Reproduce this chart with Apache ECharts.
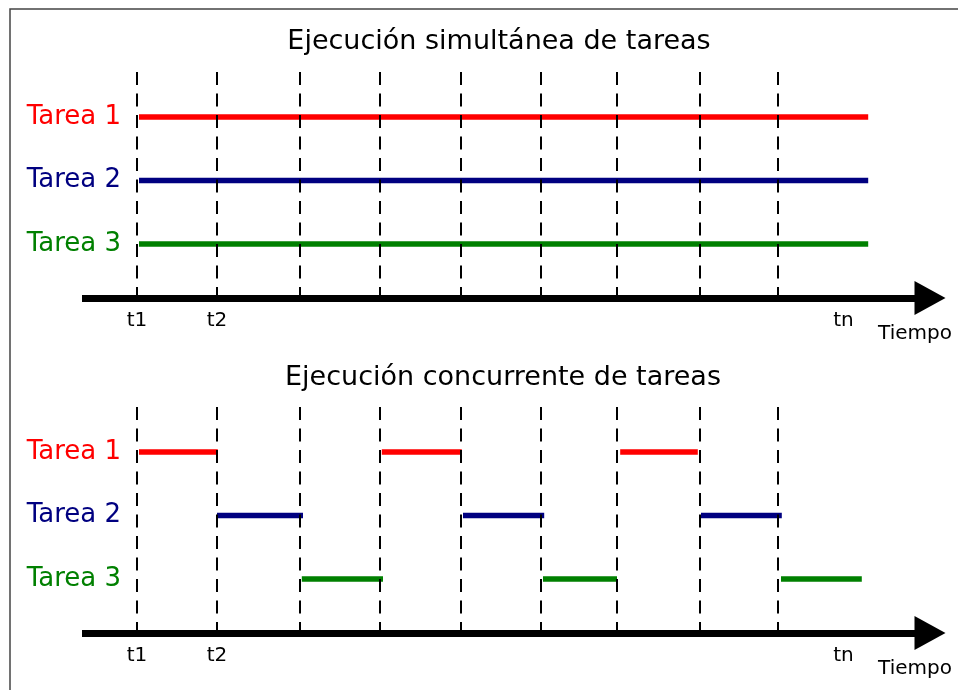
<!DOCTYPE html>
<html>
<head>
<meta charset="utf-8">
<script src="https://cdn.jsdelivr.net/npm/echarts@6/dist/echarts.min.js"></script>
<style>
html,body{margin:0;padding:0;background:#fff;}
#chart{width:958px;height:690px;}
</style>
</head>
<body>
<div id="chart"></div>
<script>
// ---- data ----
const titles = ['Ejecución simultánea de tareas', 'Ejecución concurrente de tareas'];
const taskNames = ['Tarea 1', 'Tarea 2', 'Tarea 3'];
const taskLevels = [3, 2, 1];
const timeBoundaries = [1.0, 2.0, 3.04, 4.04, 5.05, 6.05, 7.0, 8.03, 9.01];
const tickValues = [1, 2, 9.83];
const tickLabels = ['t1', 't2', 'tn'];
const axisName = 'Tiempo';
const simultaneousSpan = [1.025, 10.14];
const concurrentTask1 = [[1.025, 2.01], [4.06, 5.06], [7.04, 8.01]];
const concurrentTask2 = [[2.0, 3.075], [5.075, 6.09], [8.05, 9.06]];
const concurrentTask3 = [[3.06, 4.075], [6.075, 7.0], [9.05, 10.06]];

// ---- styles ----
const colors = ['#ff0000', '#000080', '#008000'];
const FONT = 'DejaVu Sans';
const X_MIN = 0.3125, X_MAX = 10.9125;
const Y_MIN = 0.15, Y_MAX = 3.709;

function segData(segs, level) {
  const out = [];
  segs.forEach((s, i) => {
    if (i > 0) out.push([s[0], '-']);
    out.push([s[0], level]);
    out.push([s[1], level]);
  });
  return out;
}

function dashLines() {
  return {
    silent: true,
    symbol: ['none', 'none'],
    label: { show: false },
    lineStyle: { type: [13, 8.5], color: '#000', width: 2 },
    emphasis: { disabled: true },
    data: timeBoundaries.map(t => [{ coord: [t, Y_MAX] }, { coord: [t, Y_MIN] }])
  };
}

function xAxisFor(gridIndex) {
  return {
    type: 'value', gridIndex, min: X_MIN, max: X_MAX,
    splitLine: { show: false },
    axisTick: { show: false },
    axisLine: {
      show: true, onZero: false,
      symbol: ['none', 'triangle'], symbolSize: [34, 31],
      lineStyle: { color: '#000', width: 7, cap: 'butt' }
    },
    axisLabel: {
      customValues: tickValues,
      formatter: v => { const i = tickValues.indexOf(v); return i >= 0 ? tickLabels[i] : ''; },
      color: '#000', fontSize: 20, fontFamily: FONT, margin: 13
    },
    name: axisName, nameLocation: 'end', nameGap: -15,
    nameTextStyle: { color: '#000', fontSize: 20, fontFamily: FONT, align: 'center', verticalAlign: 'top', padding: [26, 0, 0, 0] }
  };
}

function yAxisFor(gridIndex) {
  const rich = {};
  taskNames.forEach((n, i) => { rich['c' + i] = { color: colors[i], fontSize: 26, fontFamily: FONT }; });
  return {
    type: 'value', gridIndex, min: Y_MIN, max: Y_MAX,
    splitLine: { show: false }, axisTick: { show: false }, axisLine: { show: false },
    axisLabel: {
      customValues: taskLevels,
      formatter: v => { const i = taskLevels.indexOf(v); return i >= 0 ? '{c' + i + '|' + taskNames[i] + '}' : ''; },
      rich, margin: -39
    }
  };
}

const series = [];
// top panel: simultaneous
taskLevels.forEach((lv, i) => {
  const s = {
    type: 'line', xAxisIndex: 0, yAxisIndex: 0, symbol: 'none', silent: true,
    lineStyle: { color: colors[i], width: 5.5, cap: 'butt' },
    data: [[simultaneousSpan[0], lv], [simultaneousSpan[1], lv]]
  };
  if (i === 0) s.markLine = dashLines();
  series.push(s);
});
// bottom panel: concurrent
[concurrentTask1, concurrentTask2, concurrentTask3].forEach((segs, i) => {
  const s = {
    type: 'line', xAxisIndex: 1, yAxisIndex: 1, symbol: 'none', silent: true, connectNulls: false,
    lineStyle: { color: colors[i], width: 5.5, cap: 'butt' },
    data: segData(segs, taskLevels[i])
  };
  if (i === 0) s.markLine = dashLines();
  series.push(s);
});

const chart = echarts.init(document.getElementById('chart'), null, { renderer: 'canvas' });
chart.setOption({
  animation: false,
  backgroundColor: '#fff',
  title: [
    { text: titles[0], left: 494, top: 23, textAlign: 'center', textStyle: { fontFamily: FONT, fontSize: 27, fontWeight: 'normal', color: '#000' } },
    { text: titles[1], left: 498, top: 359, textAlign: 'center', textStyle: { fontFamily: FONT, fontSize: 27, fontWeight: 'normal', color: '#000' } }
  ],
  grid: [
    { left: 82, right: 28, top: 72, bottom: 392 },
    { left: 82, right: 28, top: 407, bottom: 57 }
  ],
  xAxis: [xAxisFor(0), xAxisFor(1)],
  yAxis: [yAxisFor(0), yAxisFor(1)],
  graphic: [{
    type: 'rect', silent: true, z: 100,
    shape: { x: 10, y: 9, width: 1200, height: 1200 },
    style: { fill: 'none', stroke: '#444', lineWidth: 1.5 }
  }],
  series
});
</script>
</body>
</html>
